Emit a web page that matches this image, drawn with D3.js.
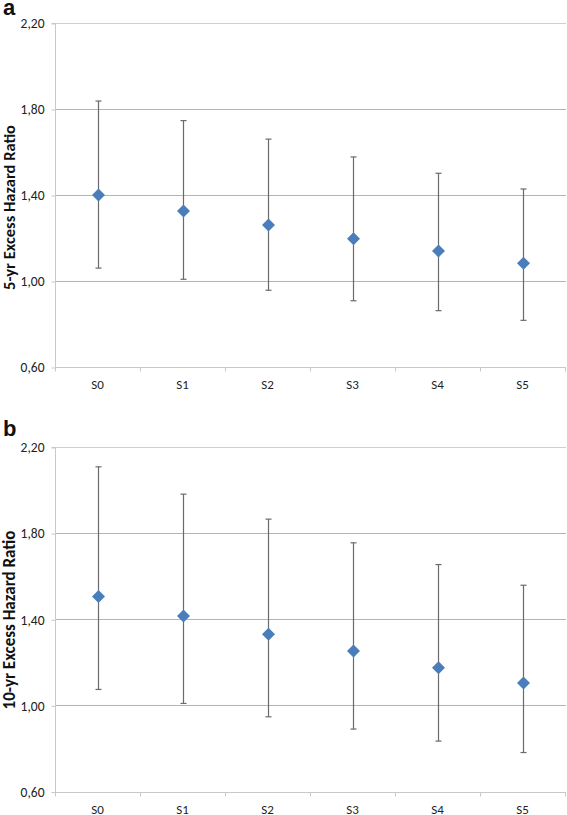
<!DOCTYPE html>
<html><head><meta charset="utf-8">
<script src="https://cdn.jsdelivr.net/npm/d3@7"></script>
<style>body{margin:0;background:#fff}svg{display:block}</style>
</head><body>
<script>
const categories = ["S0","S1","S2","S3","S4","S5"];
const yTicks = [0.6, 1.0, 1.4, 1.8, 2.2];
// Panel a: 5-yr
const hr5 = [1.40, 1.326, 1.26, 1.197, 1.14, 1.082];
const lo5 = [1.06, 1.008, 0.957, 0.908, 0.862, 0.817];
const hi5 = [1.837, 1.746, 1.66, 1.577, 1.501, 1.428];
// Panel b: 10-yr
const hr10 = [1.506, 1.415, 1.33, 1.253, 1.175, 1.104];
const lo10 = [1.074, 1.009, 0.947, 0.89, 0.834, 0.781];
const hi10 = [2.108, 1.981, 1.865, 1.755, 1.654, 1.558];

const W = 567, H = 815;
const svg = d3.select("body").append("svg").attr("width", W).attr("height", H);
const fmt = d => d.toFixed(2).replace(".", ",");
const font = "Carlito, Lato, 'Liberation Sans', sans-serif";

function panel(letter, letterY, top, bottom, labelText, labelY, labelLen, hr, lo, hi) {
  const left = 55, right = 565;
  const x = d3.scaleBand().domain(categories).range([left, right]);
  const y = d3.scaleLinear().domain([0.6, 2.2]).range([bottom, top]);
  const g = svg.append("g");

  // gridlines
  g.selectAll("line.grid").data(yTicks.filter(t => t > 0.6)).enter().append("line")
    .attr("x1", left).attr("x2", 566)
    .attr("y1", d => Math.round(y(d)) + 0.5).attr("y2", d => Math.round(y(d)) + 0.5)
    .attr("stroke", d => d === 2.2 ? "#d0d0d0" : "#b4b4b4").attr("stroke-width", 1);

  // y axis
  const ya = d3.axisLeft(y).tickValues(yTicks).tickFormat(fmt).tickSize(4).tickPadding(7);
  const yg = g.append("g").attr("transform", `translate(${left + 0.5},0.5)`).call(ya);
  yg.select(".domain").attr("stroke", "#c8c8c8").attr("d", `M-4,${y(2.2)}H0V${y(0.6)}`);
  yg.selectAll(".tick line").attr("stroke", "#c8c8c8");
  yg.selectAll("text").attr("font-family", font).attr("font-size", 13.5).attr("fill", "#222");

  // x axis
  const xa = d3.axisBottom(x).tickSize(0).tickPadding(12);
  const xg = g.append("g").attr("transform", `translate(0,${Math.round(bottom) + 0.5})`).call(xa);
  xg.select(".domain").attr("stroke", "#c8c8c8").attr("d", `M${left},0H566`);
  xg.selectAll("text").attr("font-family", font).attr("font-size", 13).attr("fill", "#222");
  // category separator ticks
  const sep = categories.map(c => x(c)).concat([right]);
  xg.selectAll("line.sep").data(sep).enter().append("line")
    .attr("x1", d => Math.round(d) + 0.5).attr("x2", d => Math.round(d) + 0.5)
    .attr("y1", 0).attr("y2", 4).attr("stroke", "#c8c8c8");

  // error bars
  const cx = i => Math.round(x(categories[i]) + x.bandwidth() / 2) + 0.5;
  const eb = g.append("g").attr("stroke", "#6a6a6a").attr("stroke-width", 1.2);
  categories.forEach((c, i) => {
    eb.append("line").attr("x1", cx(i)).attr("x2", cx(i)).attr("y1", y(hi[i])).attr("y2", y(lo[i]));
    eb.append("line").attr("x1", cx(i) - 3).attr("x2", cx(i) + 3).attr("y1", y(hi[i])).attr("y2", y(hi[i]));
    eb.append("line").attr("x1", cx(i) - 3).attr("x2", cx(i) + 3).attr("y1", y(lo[i])).attr("y2", y(lo[i]));
  });

  // markers
  g.selectAll("path.pt").data(hr).enter().append("path")
    .attr("d", "M0,-6.5L6.5,0L0,6.5L-6.5,0Z")
    .attr("transform", (d, i) => `translate(${cx(i)},${y(d)})`)
    .attr("fill", "#4a7ebb");

  // y label, sized to match reference length
  const lab = svg.append("text").attr("transform", `translate(15,${labelY}) rotate(-90)`)
    .attr("text-anchor", "middle").attr("font-family", font).attr("font-weight", "bold")
    .attr("font-size", 16).attr("fill", "#111").text(labelText);
  const len = lab.node().getComputedTextLength();
  if (len > 0) lab.attr("font-size", Math.min(17, Math.max(13, 16 * labelLen / len)));

  // panel letter
  svg.append("text").attr("x", 3).attr("y", letterY).attr("font-family", "'Liberation Sans', Arial, sans-serif")
    .attr("font-weight", "bold").attr("font-size", 22).attr("fill", "#111").text(letter);
}

panel("a", 15, 23, 367, "5-yr Excess Hazard Ratio", 207.5, 165, hr5, lo5, hi5);
panel("b", 436, 447, 791.5, "10-yr Excess Hazard Ratio", 620, 180, hr10, lo10, hi10);
</script>
</body></html>
